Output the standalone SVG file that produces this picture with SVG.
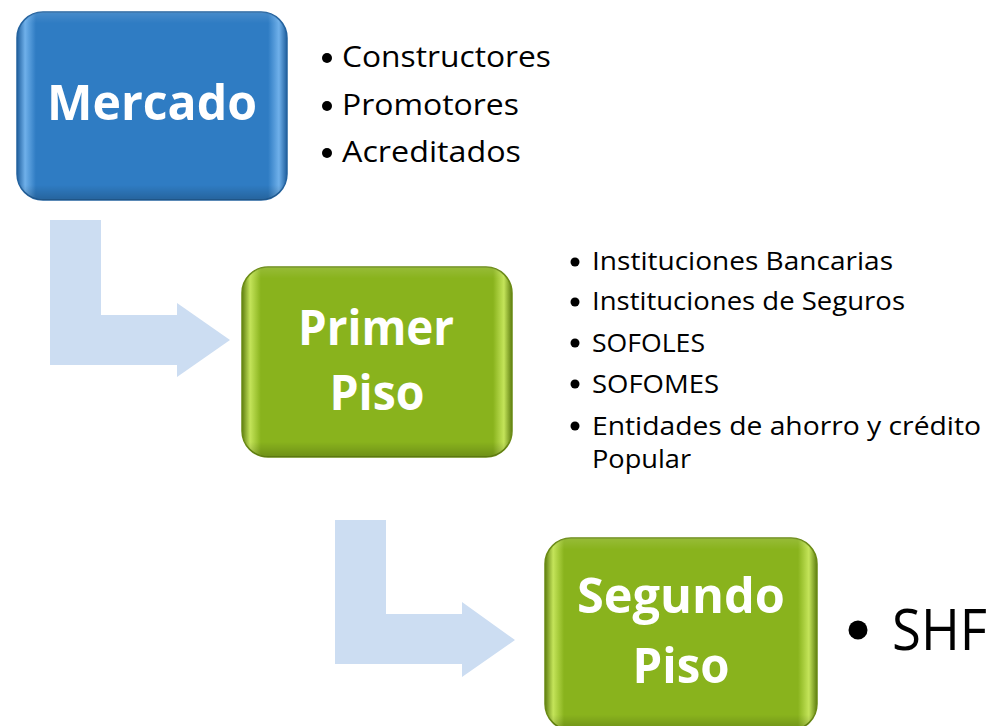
<svg xmlns="http://www.w3.org/2000/svg" width="993" height="726" viewBox="0 0 993 726">
<defs>
<linearGradient id="blueEdge" x1="0" y1="0" x2="1" y2="0">
<stop offset="0" stop-color="#1f5f9e"/>
<stop offset="0.03" stop-color="#6fb0ea"/>
<stop offset="0.07" stop-color="#2f7cc3"/>
<stop offset="0.93" stop-color="#2f7cc3"/>
<stop offset="0.97" stop-color="#6fb0ea"/>
<stop offset="1" stop-color="#1f5f9e"/>
</linearGradient>
<linearGradient id="greenEdge" x1="0" y1="0" x2="1" y2="0">
<stop offset="0" stop-color="#5f7f10"/>
<stop offset="0.03" stop-color="#c4e45a"/>
<stop offset="0.07" stop-color="#89b31d"/>
<stop offset="0.93" stop-color="#89b31d"/>
<stop offset="0.97" stop-color="#c4e45a"/>
<stop offset="1" stop-color="#5f7f10"/>
</linearGradient>
<linearGradient id="vshade" x1="0" y1="0" x2="0" y2="1">
<stop offset="0" stop-color="#ffffff" stop-opacity="0.12"/>
<stop offset="0.06" stop-color="#ffffff" stop-opacity="0"/>
<stop offset="0.92" stop-color="#000000" stop-opacity="0"/>
<stop offset="1" stop-color="#000000" stop-opacity="0.2"/>
</linearGradient>
</defs>
<style>
.arrow{fill:#ccddf2;}
.blue{fill:url(#blueEdge);stroke:#24639f;stroke-width:1.5;}
.green{fill:url(#greenEdge);stroke:#6a8a14;stroke-width:1.5;}
.shade{fill:url(#vshade);}
.lbl{font-family:"Open Sans","Liberation Sans",sans-serif;font-weight:bold;fill:#ffffff;font-size:49px;text-anchor:middle;}
.item{font-family:"Open Sans","Liberation Sans",sans-serif;fill:#000000;}
.bul{fill:#000000;}
</style>
<g id="connectors">
<path class="arrow" d="M50,220 H101 V315 H177 V303 L230,340 L177,377 V365 H50 Z"/>
<path class="arrow" d="M335,520 H386 V614 H462 V602 L515,640 L462,677 V664 H335 Z"/>
</g>
<g id="mercado">
<rect class="blue" x="17" y="12" width="270" height="188" rx="26"/>
<rect class="shade" x="17" y="12" width="270" height="188" rx="26"/>
<text class="lbl" x="152" y="120" textLength="210" lengthAdjust="spacingAndGlyphs">Mercado</text>
</g>
<g id="mercado-list">
<circle class="bul" cx="327" cy="58" r="5"/>
<text class="item" x="342" y="67" font-size="29" textLength="209" lengthAdjust="spacingAndGlyphs">Constructores</text>
<circle class="bul" cx="327" cy="106" r="5"/>
<text class="item" x="342" y="115" font-size="29" textLength="177" lengthAdjust="spacingAndGlyphs">Promotores</text>
<circle class="bul" cx="327" cy="153" r="5"/>
<text class="item" x="342" y="162" font-size="29" textLength="179" lengthAdjust="spacingAndGlyphs">Acreditados</text>
</g>
<g id="primer-piso">
<rect class="green" x="242" y="267" width="270" height="190" rx="26"/>
<rect class="shade" x="242" y="267" width="270" height="190" rx="26"/>
<text class="lbl" x="376" y="345" textLength="156" lengthAdjust="spacingAndGlyphs">Primer</text>
<text class="lbl" x="377" y="410" textLength="95" lengthAdjust="spacingAndGlyphs">Piso</text>
</g>
<g id="primer-list">
<circle class="bul" cx="575" cy="262" r="4.5"/>
<text class="item" x="592" y="270" font-size="26" textLength="301" lengthAdjust="spacingAndGlyphs">Instituciones  Bancarias</text>
<circle class="bul" cx="575" cy="302" r="4.5"/>
<text class="item" x="592" y="310" font-size="26" textLength="313" lengthAdjust="spacingAndGlyphs">Instituciones de Seguros</text>
<circle class="bul" cx="575" cy="343" r="4.5"/>
<text class="item" x="592" y="352" font-size="26" textLength="113" lengthAdjust="spacingAndGlyphs">SOFOLES</text>
<circle class="bul" cx="575" cy="384" r="4.5"/>
<text class="item" x="592" y="393" font-size="26" textLength="127" lengthAdjust="spacingAndGlyphs">SOFOMES</text>
<circle class="bul" cx="575" cy="426" r="4.5"/>
<text class="item" x="592" y="435" font-size="26" textLength="389" lengthAdjust="spacingAndGlyphs">Entidades de ahorro  y crédito</text>
<text class="item" x="592" y="468" font-size="26" textLength="99" lengthAdjust="spacingAndGlyphs">Popular</text>
</g>
<g id="segundo-piso">
<rect class="green" x="545" y="538" width="272" height="192" rx="26"/>
<rect class="shade" x="545" y="538" width="272" height="192" rx="26"/>
<text class="lbl" x="681" y="613" textLength="208" lengthAdjust="spacingAndGlyphs">Segundo</text>
<text class="lbl" x="681" y="683" textLength="97" lengthAdjust="spacingAndGlyphs">Piso</text>
</g>
<g id="segundo-list">
<circle class="bul" cx="858" cy="630" r="9.5"/>
<text class="item" x="892" y="650" font-size="56" textLength="95" lengthAdjust="spacingAndGlyphs">SHF</text>
</g>
</svg>
